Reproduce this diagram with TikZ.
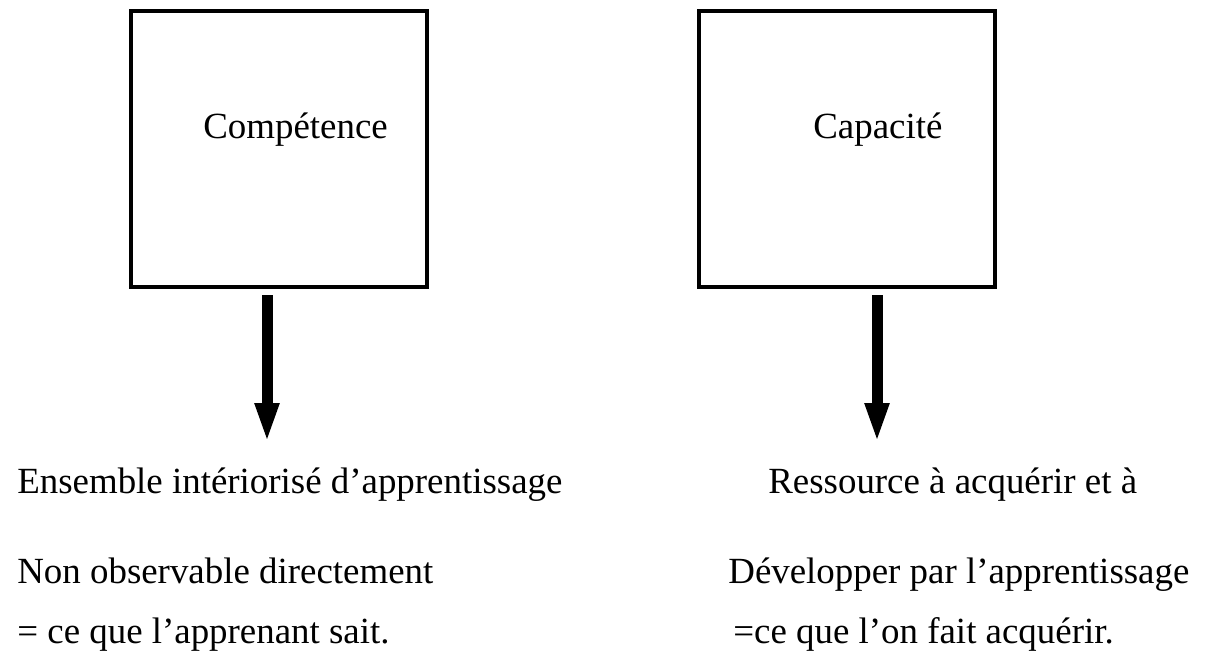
\documentclass[tikz,border=0pt]{standalone}
\usepackage{fontspec}
\setmainfont{Liberation Serif}
\usetikzlibrary{arrows.meta}

\begin{document}
\begin{tikzpicture}[%
  x=0.02cm, y=-0.02cm,
  every node/.style={font=\fontsize{21}{25}\selectfont, inner sep=0pt},
  notion/.style={draw, line width=0.08cm, minimum width=5.92cm, minimum height=5.52cm},
  bigarrow/.style={line width=0.22cm, -{Triangle[width=0.44cm, length=0.8cm]}},
  txt/.style={anchor=base west}]
  \useasboundingbox (0,0) rectangle (1219,657);
  % the two boxes
  \node[notion] (comp) at (279,149) {};
  \node[notion] (capa) at (847,149) {};
  \node[txt] (comptxt) at (203,138) {Compétence};
  \node[txt] (capatxt) at (813,138) {Capacité};
  % arrows
  \coordinate (compstart) at (267,295);
  \coordinate (compend) at (267,443);
  \coordinate (capastart) at (877,295);
  \coordinate (capaend) at (877,443);
  \draw[bigarrow] (compstart) -- (compend);
  \draw[bigarrow] (capastart) -- (capaend);
  % definitions below
  \node[txt] (comp1) at (17,493) {Ensemble intériorisé d’apprentissage};
  \node[txt] (comp2) at (17,583) {Non observable directement};
  \node[txt] (comp3) at (17,643) {= ce que l’apprenant sait.};
  \node[txt] (capa1) at (768,493) {Ressource à acquérir et à};
  \node[txt] (capa2) at (728,583) {Développer par l’apprentissage};
  \node[txt] (capa3) at (733,643) {=ce que l’on fait acquérir.};
\end{tikzpicture}
\end{document}
